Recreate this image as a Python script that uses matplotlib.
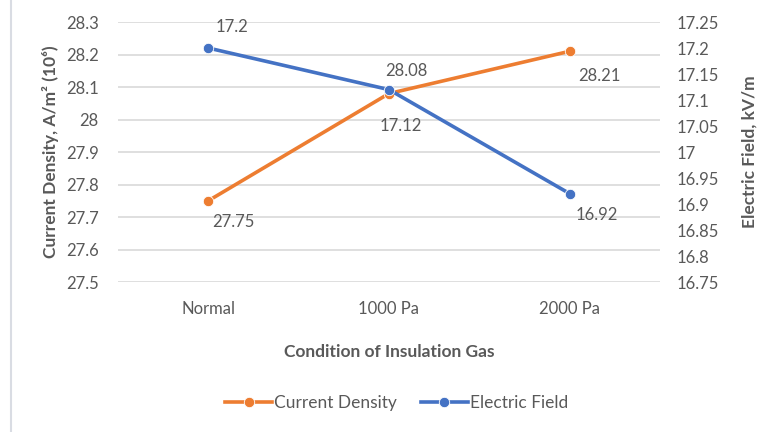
import matplotlib.pyplot as plt
from matplotlib.lines import Line2D

conditions = ['Normal', '1000 Pa', '2000 Pa']
current_density = [27.75, 28.08, 28.21]
electric_field = [17.2, 17.12, 16.92]

ORANGE = '#ED7D31'
BLUE = '#4472C4'
TEXT = '#595959'
GRID = '#D9D9D9'

plt.rcParams['font.family'] = ['Lato', 'DejaVu Sans']
plt.rcParams['font.size'] = 11.5

fig = plt.figure(figsize=(7.67, 4.32), dpi=100)
ax = fig.add_axes([0.1538, 0.3472, 0.7067, 0.6018])
ax2 = ax.twinx()

x = range(len(conditions))
cd_line, = ax.plot(x, current_density, color=ORANGE, lw=2.6, marker='o', ms=7.5,
                   mec='white', mew=0.6, zorder=3, label='Current Density')
ef_line, = ax2.plot(x, electric_field, color=BLUE, lw=2.6, marker='o', ms=7.5,
                    mec='white', mew=0.6, zorder=3, label='Electric Field')

# label offsets in pixels (dx, dy)
cd_offsets = [(25, -21), (17, 23), (30, -25)]
ef_offsets = [(24, 21), (12, -36), (27, -21)]
for i, v in enumerate(current_density):
    ax.annotate(f'{v:g}', (i, v), xytext=cd_offsets[i], textcoords='offset pixels',
                ha='center', va='center', color=TEXT, fontsize=12)
for i, v in enumerate(electric_field):
    ax2.annotate(f'{v:g}', (i, v), xytext=ef_offsets[i], textcoords='offset pixels',
                 ha='center', va='center', color=TEXT, fontsize=12)

ax.set_xlim(-0.5, 2.5)
ax.set_ylim(27.5, 28.3)
ax2.set_ylim(16.75, 17.25)
ax.set_yticks([27.5 + 0.1 * k for k in range(9)])
ax.set_yticklabels(['27.5', '27.6', '27.7', '27.8', '27.9', '28', '28.1', '28.2', '28.3'])
ax2.set_yticks([16.75 + 0.05 * k for k in range(11)])
ax2.set_yticklabels(['16.75', '16.8', '16.85', '16.9', '16.95', '17', '17.05', '17.1',
                     '17.15', '17.2', '17.25'])
ax.set_xticks(list(x))
ax.set_xticklabels(conditions)

ax.grid(axis='y', color=GRID, lw=1.2)
ax.set_axisbelow(True)
for a in (ax, ax2):
    for s in a.spines.values():
        s.set_visible(False)
    a.tick_params(length=0, colors=TEXT, labelsize=12)
ax.tick_params(axis='y', pad=14)
ax2.tick_params(axis='y', pad=12)
ax.tick_params(axis='x', pad=14)

ax.set_xlabel('Condition of Insulation Gas', fontweight='bold', color=TEXT,
              fontsize=12.5, labelpad=19)
ax.set_ylabel('Current Density, A/m² (10⁶)', fontweight='bold', color=TEXT,
              fontsize=12.5, labelpad=5)
ax2.set_ylabel('Electric Field, kV/m', fontweight='bold', color=TEXT,
               fontsize=12.5, labelpad=16)

fig.legend(handles=[cd_line, ef_line], loc='center', bbox_to_anchor=(0.517, 0.068),
           ncol=2, frameon=False, fontsize=12.5, handlelength=2.7, columnspacing=1.4,
           handletextpad=0.1, labelcolor=TEXT)

fig.add_artist(Line2D([11 / 767, 11 / 767], [0, 1], color='#D9DCE3', lw=1.5))

fig.savefig('out.png', dpi=100)
